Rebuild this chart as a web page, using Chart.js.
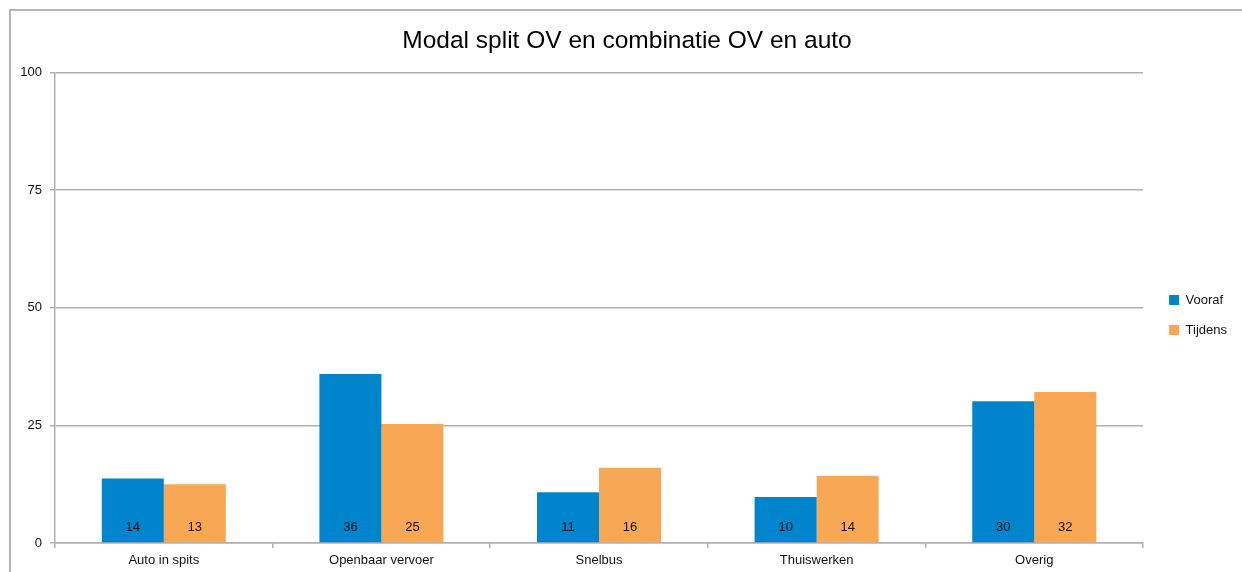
<!DOCTYPE html>
<html>
<head>
<meta charset="utf-8">
<script src="https://cdn.jsdelivr.net/npm/chart.js@4.4.1/dist/chart.umd.min.js"></script>
<style>
  html, body { margin: 0; padding: 0; background: #fff; overflow: hidden; }
  #frame { position: absolute; left: 9px; top: 9px; width: 1300px; height: 620px; border: 2px solid #b4b4b4; box-sizing: border-box; }
  #wrap { position: absolute; left: 0; top: 0; width: 1237px; height: 572px; }
</style>
</head>
<body>
<div id="frame"></div>
<div id="wrap"><canvas id="modal-chart"></canvas></div>
<script>
const categories = ['Auto in spits', 'Openbaar vervoer', 'Snelbus', 'Thuiswerken', 'Overig'];
const vooraf = [13.7, 35.9, 10.8, 9.8, 30.1];
const tijdens = [12.5, 25.3, 16.0, 14.3, 32.1];
const yTicks = [0, 25, 50, 75, 100];

const FONT = "'Liberation Sans', Arial, sans-serif";
const GRID = '#b0b0b0';

// value labels at the foot of each bar
const barLabels = {
  id: 'barLabels',
  afterDatasetsDraw(chart) {
    const ctx = chart.ctx;
    ctx.save();
    ctx.font = '13px ' + FONT;
    ctx.fillStyle = '#111';
    ctx.textAlign = 'center';
    ctx.textBaseline = 'middle';
    chart.data.datasets.forEach((ds, i) => {
      chart.getDatasetMeta(i).data.forEach((bar, j) => {
        ctx.fillText(Math.round(ds.data[j]), bar.x, bar.base - 15);
      });
    });
    ctx.restore();
  }
};

const ctx = document.getElementById('modal-chart').getContext('2d');
new Chart(ctx, {
  type: 'bar',
  data: {
    labels: categories,
    datasets: [
      { label: 'Vooraf', data: vooraf, backgroundColor: '#0084cc' },
      { label: 'Tijdens', data: tijdens, backgroundColor: '#f8a855' }
    ]
  },
  options: {
    responsive: true,
    maintainAspectRatio: false,
    animation: false,
    categoryPercentage: 0.57,
    barPercentage: 1.0,
    layout: { padding: { left: 17, right: 0, top: 0, bottom: 0 } },
    plugins: {
      title: {
        display: true,
        text: 'Modal split OV en combinatie OV en auto',
        color: '#000',
        font: { family: FONT, size: 24.5, weight: 'normal' },
        padding: { top: 27, bottom: 16 }
      },
      legend: {
        position: 'right',
        title: { display: true, text: ' ', font: { size: 10 }, padding: 23 },
        labels: {
          color: '#111',
          font: { family: FONT, size: 13 },
          boxWidth: 10,
          boxHeight: 10,
          padding: 17
        }
      },
      tooltip: { enabled: false }
    },
    scales: {
      x: {
        grid: { display: true, drawOnChartArea: false, drawTicks: true, tickLength: 5, color: GRID, lineWidth: 1.5 },
        border: { display: true, color: GRID, width: 1.5 },
        ticks: { color: '#111', font: { family: FONT, size: 13 }, padding: 5, maxRotation: 0 },
        afterFit: s => { s.height = 29; }
      },
      y: {
        min: 0,
        max: 100,
        afterBuildTicks: s => { s.ticks = yTicks.map(v => ({ value: v })); },
        grid: { color: GRID, lineWidth: 1.5, tickLength: 5 },
        border: { display: true, color: GRID, width: 1.5 },
        ticks: { color: '#111', font: { family: FONT, size: 13 }, padding: 8 },
        afterFit: s => { s.width = 38; }
      },
      spacer: {
        position: 'right',
        display: true,
        grid: { display: false },
        border: { display: false },
        ticks: { display: false },
        afterFit: s => { s.width = 9; }
      }
    }
  },
  plugins: [barLabels]
});
</script>
</body>
</html>
